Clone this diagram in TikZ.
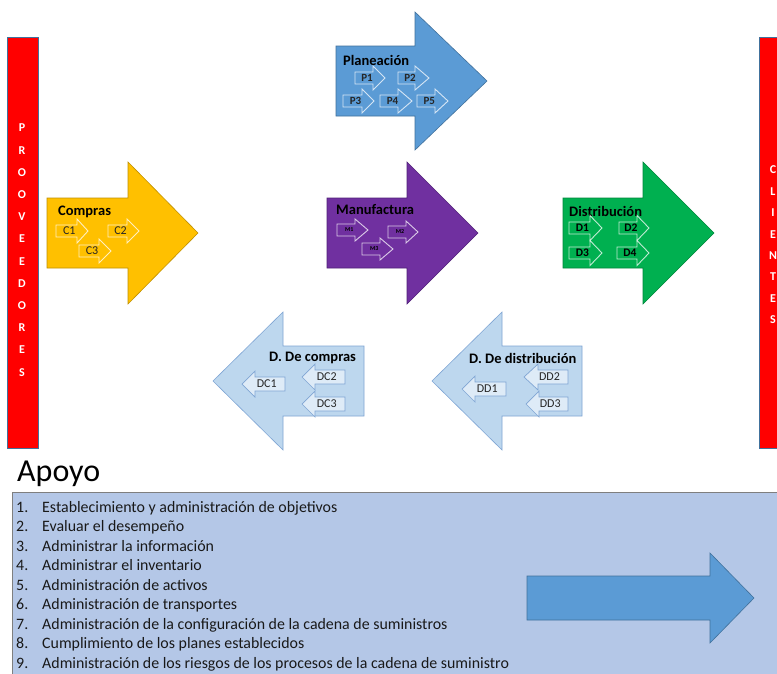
\documentclass[tikz,border=0pt]{standalone}
\usepackage{fontspec}
\setmainfont{Carlito}

\definecolor{planblue}{HTML}{5B9BD5}
\definecolor{planedge}{HTML}{41719C}
\definecolor{comprasyel}{HTML}{FFC000}
\definecolor{comprasedge}{HTML}{C09000}
\definecolor{manupurple}{HTML}{7030A0}
\definecolor{manuedge}{HTML}{502078}
\definecolor{distgreen}{HTML}{00B050}
\definecolor{distedge}{HTML}{00863C}
\definecolor{devblue}{HTML}{BDD7EE}
\definecolor{devedge}{HTML}{7FA5D4}
\definecolor{devsmall}{HTML}{DEEBF7}
\definecolor{boxblue}{HTML}{B4C7E7}
\definecolor{boxedge}{HTML}{7F7F7F}
\definecolor{barred}{HTML}{FF0000}

% block arrow: #2 tail end, #3 head base, #4 tip, #5 centre line, #6 half body, #7 half head
\newcommand\arrowshape[7][]{%
  \path[#1] (#2,#5-#6) -- (#3,#5-#6) -- (#3,#5-#7) -- (#4,#5)
    -- (#3,#5+#7) -- (#3,#5+#6) -- (#2,#5+#6) -- cycle;}

% small labelled arrow; half heights taken from \sbh and \shh
\def\sbh{6}\def\shh{12}
\newcommand\smallarrow[8][]{%
  \arrowshape[#1]{#3}{#4}{#5}{#6}{\sbh}{\shh}
  \node[#8] (#2) at ({(#3+#4)/2+0.25*(#5-#4)},#6) {#7};}

\tikzset{
  bigedge/.style={line width=0.6pt},
  lbl/.style={font=\bfseries\fontsize{14.5}{16}\selectfont, inner sep=0, anchor=west, text=black},
  inner/.style={draw=white, draw opacity=0.75, line width=0.9pt},
  devinner/.style={fill=devsmall, draw=devedge, line width=0.7pt},
  tagP/.style={font=\bfseries\fontsize{11}{12}\selectfont, inner sep=0, text=black!85},
  tagC/.style={font=\fontsize{12}{13}\selectfont, inner sep=0, text=black!85},
  tagM/.style={font=\bfseries\fontsize{6}{7}\selectfont, inner sep=0, text=black},
  tagD/.style={font=\bfseries\fontsize{11.5}{12}\selectfont, inner sep=0, text=black},
  tagR/.style={font=\fontsize{12}{13}\selectfont, inner sep=0, text=black!85},
  barletter/.style={font=\bfseries\fontsize{12}{13}\selectfont, inner sep=0, text=white},
  listtext/.style={font=\fontsize{15.9}{18}\selectfont, inner sep=0, anchor=base west, text=black!90},
}

\begin{document}
\begin{tikzpicture}[x=1pt, y=-1pt]
\clip (0,0) rectangle (777,673);
\fill[white] (0,0) rectangle (777,673);

% side bars
\path[fill=barred, draw=planedge, line width=0.5pt] (7,37) rectangle (38,448);
\path[fill=barred, draw=planedge, line width=0.5pt] (759,37) rectangle (792,448);
\foreach \l [count=\i] in {P,R,O,O,V,E,E,D,O,R,E,S}
  \node[barletter] (prov\i) at (22,{128+(\i-1)*22.2}) {\l};
\foreach \l [count=\i] in {C,L,I,E,N,T,E,S}
  \node[barletter] (cli\i) at (773,{170+(\i-1)*21.4}) {\l};

% Planeación
\arrowshape[fill=planblue, draw=planedge, bigedge]{336}{415}{487}{81}{35}{69}
\node[lbl] (planeacion) at (343,60) {Planeación};
\smallarrow[inner]{p1}{355}{373}{385}{78}{P1}{tagP}
\smallarrow[inner]{p2}{398}{415}{429}{78}{P2}{tagP}
\smallarrow[inner]{p3}{343}{362}{374}{101}{P3}{tagP}
\smallarrow[inner]{p4}{380}{398}{412}{101}{P4}{tagP}
\smallarrow[inner]{p5}{417}{435}{448}{101}{P5}{tagP}

% Compras
\arrowshape[fill=comprasyel, draw=comprasedge, bigedge]{47}{128}{198}{233}{35}{71}
\node[lbl] (compras) at (58,212) {Compras};
\smallarrow[inner]{c1}{56}{77}{88}{231}{C1}{tagC}
\smallarrow[inner]{c2}{108}{127}{139}{231}{C2}{tagC}
\smallarrow[inner]{c3}{79}{99}{111}{251}{C3}{tagC}

% Manufactura
\arrowshape[fill=manupurple, draw=manuedge, bigedge]{327}{407}{478}{233}{35}{71}
\node[lbl] (manufactura) at (336,210) {Manufactura};
\def\shh{11}
\smallarrow[inner]{m1}{337}{355}{368}{230}{M1}{tagM}
\smallarrow[inner]{m2}{388}{406}{418}{232}{M2}{tagM}
\smallarrow[inner]{m3}{362}{380}{393}{249}{M3}{tagM}

% Distribución
\arrowshape[fill=distgreen, draw=distedge, bigedge]{563}{643}{714}{233}{35}{71}
\node[lbl] (distribucion) at (569,211) {Distribución};
\def\shh{12.5}
\smallarrow[inner]{d1}{569}{590}{602}{228}{D1}{tagD}
\smallarrow[inner]{d2}{619}{637}{649}{228}{D2}{tagD}
\smallarrow[inner]{d3}{569}{590}{602}{253}{D3}{tagD}
\smallarrow[inner]{d4}{617}{637}{649}{253}{D4}{tagD}

% returns
\def\sbh{7}\def\shh{13}
\arrowshape[fill=devblue, draw=devedge, bigedge]{364}{283}{213}{381}{35}{69}
\node[lbl] (devcompras) at (269,358) {D. De compras};
\smallarrow[devinner]{dc1}{285}{255}{242}{384}{DC1}{tagR}
\smallarrow[devinner]{dc2}{345}{315}{302}{377}{DC2}{tagR}
\smallarrow[devinner]{dc3}{345}{315}{302}{404}{DC3}{tagR}

\arrowshape[fill=devblue, draw=devedge, bigedge]{582}{502}{432}{381}{35}{69}
\node[lbl] (devdistribucion) at (469,358) {D. De distribución};
\smallarrow[devinner]{dd1}{506}{475}{462}{389}{DD1}{tagR}
\smallarrow[devinner]{dd2}{568}{538}{524}{377}{DD2}{tagR}
\smallarrow[devinner]{dd3}{568}{539}{526}{404}{DD3}{tagR}

% support area
\node[font=\fontsize{32}{36}\selectfont, inner sep=0, anchor=base west] (apoyo) at (17,481) {Apoyo};
\path[fill=boxblue, draw=boxedge, line width=0.8pt] (12,492) rectangle (800,700);
\foreach \t [count=\i] in {%
  Establecimiento y administración de objetivos,
  Evaluar el desempeño,
  Administrar la información,
  Administrar el inventario,
  Administración de activos,
  Administración de transportes,
  Administración de la configuración de la cadena de suministros,
  Cumplimiento de los planes establecidos,
  Administración de los riesgos de los procesos de la cadena de suministro}
{
  \node[listtext] (num\i) at (16,{512+(\i-1)*19.55}) {\i.};
  \node[listtext] (item\i) at (42,{512+(\i-1)*19.55}) {\t};
}
\arrowshape[fill=planblue, draw=planedge, bigedge]{527}{710}{754}{598}{22}{45}
\end{tikzpicture}
\end{document}
